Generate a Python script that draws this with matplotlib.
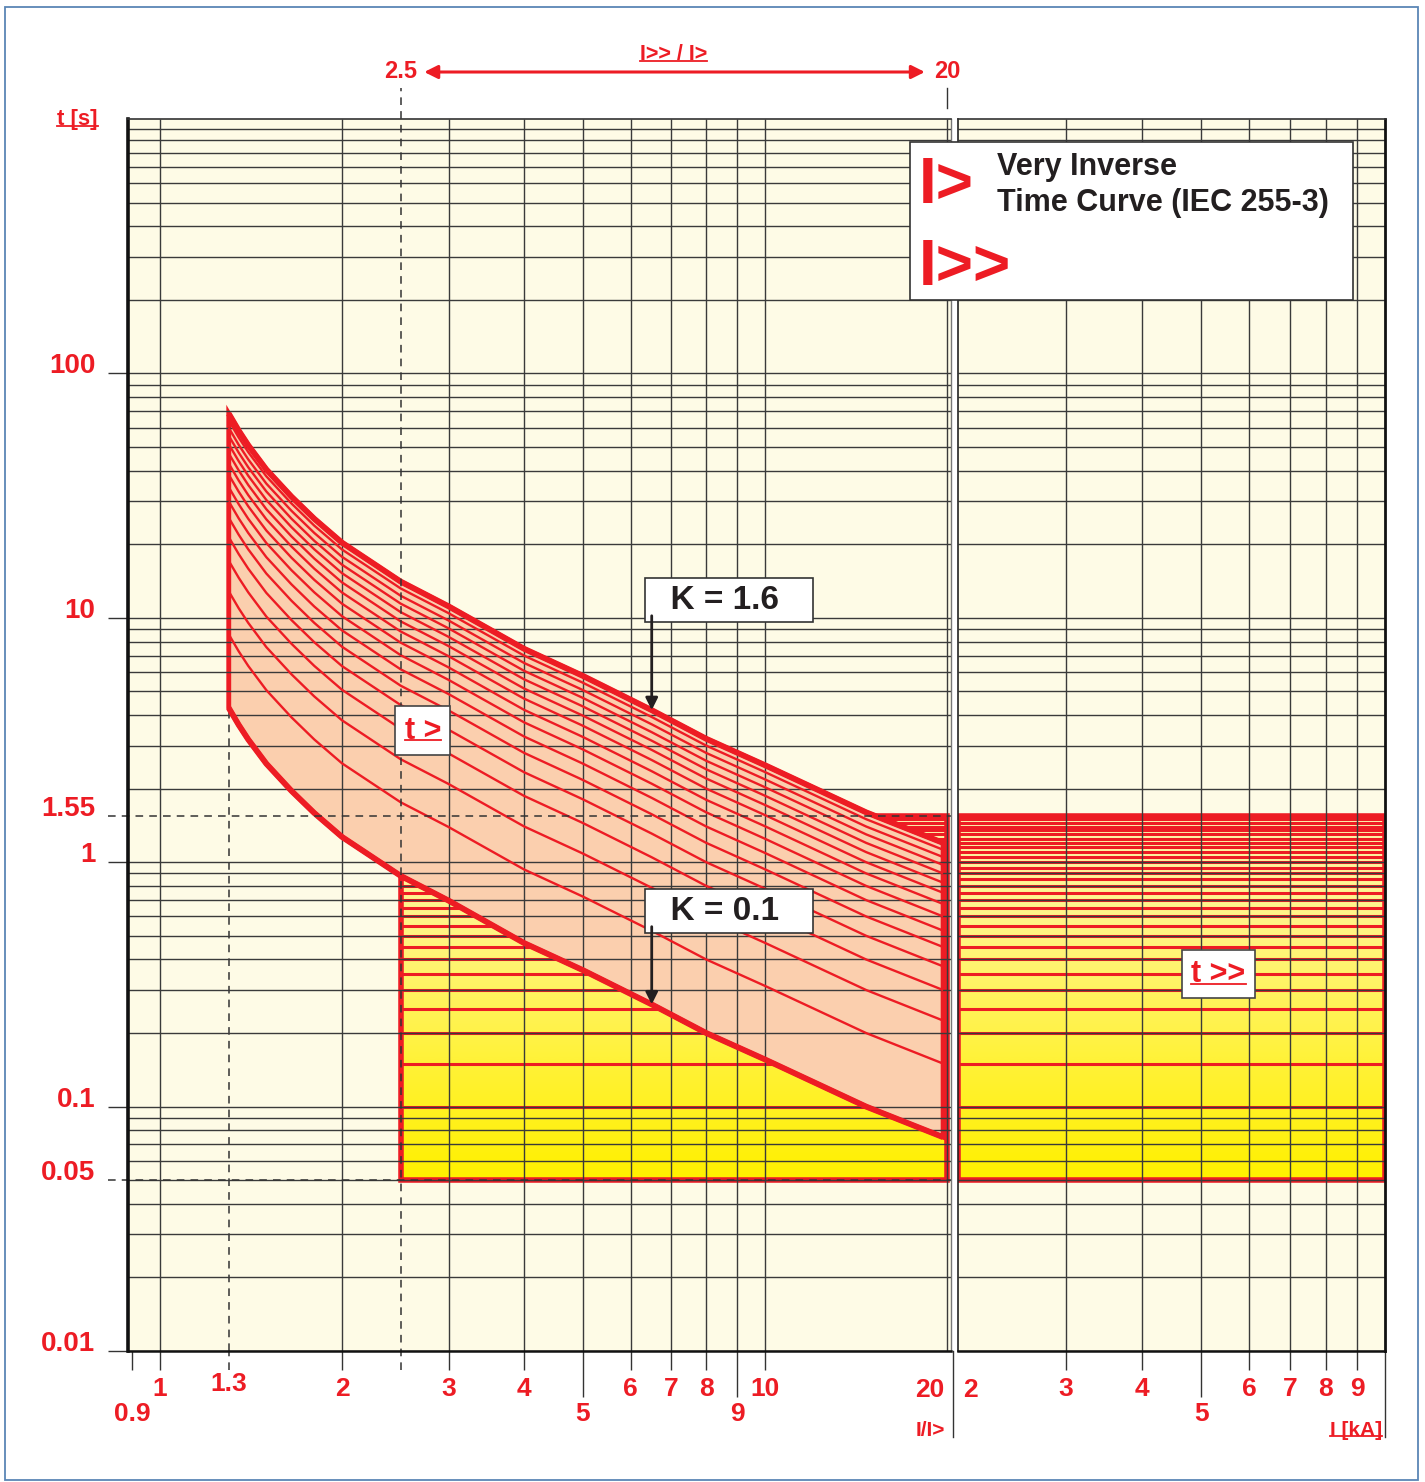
"""
IEC 255-3 very inverse time curve chart (I> / I>> relay settings).
"""

import numpy as np
import matplotlib
matplotlib.use("Agg")
import matplotlib.pyplot as plt
import matplotlib.transforms as mtransforms
from matplotlib.patches import Rectangle, Polygon
from matplotlib.lines import Line2D
from matplotlib.ticker import NullLocator
from matplotlib.colors import LinearSegmentedColormap

# ---- data ----
current_ratio = [1.3, 1.35, 1.4, 1.5, 1.65, 1.8, 2, 2.5, 3, 4, 5, 6.5, 8, 10, 14.7, 19.7]
base_time = [42.8, 36.5, 31.8, 25.3, 19.6, 15.9, 12.7, 8.8, 6.97, 4.67, 3.62, 2.62,
             2.0, 1.56, 1.0, 0.75]            # curve for K = 1
k_values = [0.1, 0.2, 0.3, 0.4, 0.5, 0.6, 0.7, 0.8, 0.9, 1.0, 1.1, 1.2, 1.3, 1.4, 1.5, 1.6]
definite_times = [0.1, 0.15, 0.2, 0.25, 0.3, 0.35, 0.4, 0.45, 0.5, 0.55, 0.6, 0.65, 0.7,
                  0.75, 0.8, 0.85, 0.9, 0.95, 1.0, 1.05, 1.1, 1.15, 1.2, 1.25, 1.3,
                  1.35, 1.4, 1.45, 1.5]
t_set_min, t_set_max = 0.05, 1.55
pickup_min = 1.3
ratio_range = (2.5, 20)
ka_range = (2, 10)

y_ticks = [0.01, 0.05, 0.1, 1, 1.55, 10, 100]
y_labels = ["0.01", "0.05", "0.1", "1", "1.55", "10", "100"]
left_row1 = [0.9, 1, 2, 3, 4, 6, 7, 8, 10]
left_row1_labels = ["", "1", "2", "3", "4", "6", "7", "8", "10"]
left_row2 = [5, 9]
right_row1 = [3, 4, 6, 7, 8, 9]
right_row2 = [5]
left_grid_x = [1, 2, 3, 4, 5, 6, 7, 8, 9, 10, 20]
right_grid_x = [3, 4, 5, 6, 7, 8, 9]

RED = "#ED1C24"
DARK = "#231F20"
GRID = "#3A3A3A"
CREAM = "#FEFBE6"
PEACH = "#FBCFAE"

plt.rcParams["font.family"] = ["Liberation Sans", "DejaVu Sans"]
plt.rcParams["font.weight"] = "bold"

W, H = 1425, 1482
fig = plt.figure(figsize=(W / 100, H / 100), dpi=100)
fig.patch.set_facecolor("white")

ax_h = (1351 - 119) / H
ax = fig.add_axes([128 / W, 1 - 1351 / H, (951 - 128) / W, ax_h])
ax2 = fig.add_axes([958 / W, 1 - 1351 / H, (1385 - 958) / W, ax_h])

ylim = (0.01, 1100)
xlim_l = (0.886, 20.3)
for a in (ax, ax2):
    a.set_xscale("log")
    a.set_yscale("log")
    a.set_facecolor(CREAM)

# yellow shading: saturated at the bottom, paler towards the top (even on the log axis)
yel_cmap = LinearSegmentedColormap.from_list("yel", ["#FFF000", "#FFF23A", "#FFF480",
                                                     "#FFF7B0"])
rows = np.linspace(t_set_min, t_set_max, 512)
grad = (np.log(rows / t_set_min) / np.log(t_set_max / t_set_min)).reshape(-1, 1)

grid_y = [m * 10.0 ** e for e in range(-2, 4) for m in range(1, 10) if m * 10.0 ** e < ylim[1]]


def setting_box(a, x0, x1):
    a.imshow(grad, extent=[x0, x1, t_set_min, t_set_max], origin="lower", cmap=yel_cmap,
             aspect="auto", interpolation="bilinear", zorder=1)
    a.hlines(definite_times, x0, x1, color=RED, lw=2.2, zorder=2)
    a.add_patch(Rectangle((x0, t_set_min), x1 - x0, t_set_max - t_set_min, fill=False,
                          ec=RED, lw=4, zorder=2.5, joinstyle="miter"))


# ---- left panel: I/I> ----
setting_box(ax, *ratio_range)

cur = np.array(current_ratio)
base = np.array(base_time)
k_lo, k_hi = min(k_values), max(k_values)
band = list(zip(cur, k_hi * base)) + list(zip(cur[::-1], k_lo * base[::-1]))
ax.add_patch(Polygon(band, closed=True, fc=PEACH, ec=RED, lw=3.5, zorder=3, joinstyle="miter"))
for k in k_values:
    thick = k in (k_lo, k_hi)
    ax.plot(cur, k * base, color=RED, lw=4.2 if thick else 1.7, zorder=5,
            solid_capstyle="butt")

ax.hlines(grid_y, *xlim_l, color=GRID, lw=1.0, zorder=4)
ax.vlines(left_grid_x, *ylim, color=GRID, lw=1.0, zorder=4)

# ---- right panel: I [kA] ----
setting_box(ax2, *ka_range)
ax2.hlines(grid_y, *ka_range, color=GRID, lw=1.0, zorder=4)
ax2.vlines(right_grid_x, *ylim, color=GRID, lw=1.0, zorder=4)

ax.set_xlim(*xlim_l)
ax2.set_xlim(*ka_range)
for a in (ax, ax2):
    a.set_ylim(*ylim)

# ---- axes styling ----
ax.set_yticks(y_ticks, y_labels)
ax.yaxis.set_minor_locator(NullLocator())
ax.tick_params(axis="y", length=14.4, width=1.0, color="#333333", pad=9,
               labelsize=20, labelcolor=RED)
for tick, val in zip(ax.yaxis.get_major_ticks(), y_ticks):
    if val in (t_set_min, t_set_max):
        tick.tick1line.set_visible(False)
for lbl in ax.get_yticklabels():
    lbl.set_verticalalignment("baseline")

ax.set_xticks(left_row1, left_row1_labels)
ax.set_xticks(left_row2, [str(v) for v in left_row2], minor=True)
ax2.set_xticks(right_row1, [str(v) for v in right_row1])
ax2.set_xticks(right_row2, [str(v) for v in right_row2], minor=True)
ax2.set_yticks([])
ax2.yaxis.set_minor_locator(NullLocator())
for a in (ax, ax2):
    a.tick_params(axis="x", which="major", length=13.7, width=1.0, color="#333333",
                  pad=5, labelsize=19, labelcolor=RED)
    a.tick_params(axis="x", which="minor", length=33, width=1.0, color="#333333",
                  pad=4, labelsize=19, labelcolor=RED)

ax.spines["left"].set(lw=2.6, color="#111111")
ax.spines["bottom"].set(lw=1.8, color="#111111")
ax.spines["top"].set(lw=1.2, color="#333333")
ax.spines["right"].set(lw=1.0, color="#777777")
ax2.spines["left"].set(lw=1.2, color="#222222")
ax2.spines["right"].set(lw=2.0, color="#111111")
ax2.spines["top"].set(lw=1.2, color="#333333")
ax2.spines["bottom"].set(lw=1.8, color="#111111")
for a in (ax, ax2):
    for s in a.spines.values():
        s.set_zorder(6)

bl = mtransforms.blended_transform_factory(ax.transData, ax.transAxes)
bl_y = mtransforms.blended_transform_factory(ax.transAxes, ax.transData)
bl2 = mtransforms.blended_transform_factory(ax2.transData, ax2.transAxes)
px = 1 / 1232  # one pixel in axes-height units

# dashed guide lines
dash = dict(color="#333333", lw=1.1, ls=(0, (5, 4)), clip_on=False, zorder=6)
ax.plot([ratio_range[0]] * 2, [-19 * px, 1 + 31 * px], transform=bl, **dash)
ax.plot([pickup_min] * 2, [ylim[0], k_lo * base[0]], **{**dash, "zorder": 2})
ax.plot([pickup_min] * 2, [-19 * px, 0], transform=bl, **dash)
for t in (t_set_min, t_set_max):
    ax.plot([-20 / 823, 1], [t, t], transform=bl_y, **dash)

solid = dict(color="#333333", lw=1.0, clip_on=False, zorder=6)
ax.plot([ratio_range[1]] * 2, [1 + 11 * px, 1 + 31 * px], transform=bl, **solid)
ax.plot([1 + 2 / 823] * 2, [0, -86 * px], transform=ax.transAxes, **solid)
ax2.plot([1, 1], [0, -86 * px], transform=ax2.transAxes, **solid)

# extra x labels
lab = dict(color=RED, fontsize=19, textcoords="offset points", va="top")
ax.annotate("1.3", xy=(pickup_min, 0), xycoords=bl, xytext=(0, -15), ha="center", **lab)
ax.annotate("0.9", xy=(left_row1[0], 0), xycoords=bl, xytext=(0, -37), ha="center", **lab)
ax.annotate("20", xy=(ratio_range[1], 0), xycoords=bl, xytext=(-2, -19.4), ha="right", **lab)
ax2.annotate("2", xy=(ka_range[0], 0), xycoords=bl2, xytext=(4, -19.4), ha="left", **lab)
ax.annotate("I/I>", xy=(1, 0), xycoords="axes fraction", xytext=(-4, -57),
            textcoords="offset points", ha="right", va="center", color=RED, fontsize=15)
u_ka = ax2.annotate("I [kA]", xy=(1, 0), xycoords="axes fraction", xytext=(-2, -57),
                    textcoords="offset points", ha="right", va="center", color=RED,
                    fontsize=15)
u_ts = ax.annotate("t [s]", xy=(0, 1), xycoords="axes fraction", xytext=(-21.6, 0),
                   textcoords="offset points", ha="right", va="center", color=RED,
                   fontsize=16)

# top range arrow
ya = 1 + 47 * px
ax.annotate("", xy=(ratio_range[1], ya), xytext=(ratio_range[0], ya), xycoords=bl,
            arrowprops=dict(arrowstyle="<|-|>", color=RED, lw=2.2, shrinkA=17,
                            shrinkB=16, mutation_scale=20), annotation_clip=False)
top = dict(color=RED, fontsize=17, ha="center", va="center", transform=bl, clip_on=False)
ax.text(ratio_range[0], ya, "2.5", **top)
ax.text(ratio_range[1], ya, "20", **top)
u_rr = ax.text(np.sqrt(ratio_range[0] * ratio_range[1]), 1 + 65 * px, "I>> / I>",
               **{**top, "fontsize": 15.5})

# K labels with arrows
i_arrow = 11
for k, box_bottom, label in ((k_hi, 10.2, "  K = 1.6   "), (k_lo, 0.545, "  K = 0.1   ")):
    xk = current_ratio[i_arrow]
    ax.text(xk, box_bottom, label, ha="left", va="bottom", fontsize=24, color=DARK,
            zorder=8, bbox=dict(boxstyle="square,pad=0.2", fc="white", ec="#333333",
                                lw=1.2))
    ax.annotate("", xy=(xk, k * base_time[i_arrow]), xytext=(xk, box_bottom),
                arrowprops=dict(arrowstyle="-|>", color=DARK, lw=2.0, shrinkA=0,
                                shrinkB=0, mutation_scale=18), zorder=8)

tbox = dict(boxstyle="square,pad=0.3", fc="white", ec="#444444", lw=1.2)
u_t1 = ax.text(2.72, 3.46, "t >", ha="center", va="center", fontsize=22, color=RED,
               zorder=8, bbox=tbox)
u_t2 = ax2.text(5.34, 0.348, "t >>", ha="center", va="center", fontsize=22, color=RED,
                zorder=8, bbox=tbox)

# legend panel
fig.add_artist(Rectangle((910 / W, 1 - 300 / H), 443 / W, 158 / H, transform=fig.transFigure,
                         fc="white", ec="#333333", lw=1.2, zorder=10))
fig.text(919 / W, 1 - 186 / H, "I>", fontsize=46, color=RED, va="center", zorder=11)
fig.text(919 / W, 1 - 268 / H, "I>>", fontsize=46, color=RED, va="center", zorder=11)
fig.text(997 / W, 1 - 167 / H, "Very Inverse", fontsize=22, color=DARK, va="center",
         zorder=11)
fig.text(997 / W, 1 - 203 / H, "Time Curve (IEC 255-3)", fontsize=22, color=DARK,
         va="center", zorder=11)

# outer frame
fig.add_artist(Rectangle((5 / W, 1 - 1480 / H), 1413 / W, 1473 / H, transform=fig.transFigure,
                         fill=False, ec="#5A86B5", lw=1.3, zorder=12))

# underlines
renderer = fig.canvas.get_renderer()
for txt in (u_ts, u_ka, u_rr, u_t1, u_t2):
    bb = txt.get_window_extent(renderer=renderer)
    fs = txt.get_fontsize() * fig.dpi / 72
    y = bb.y0 + 0.17 * fs
    fig.add_artist(Line2D([bb.x0, bb.x1], [y, y], transform=mtransforms.IdentityTransform(),
                          color=RED, lw=1.3, zorder=13))

fig.savefig("out.png", dpi=100, facecolor="white")
